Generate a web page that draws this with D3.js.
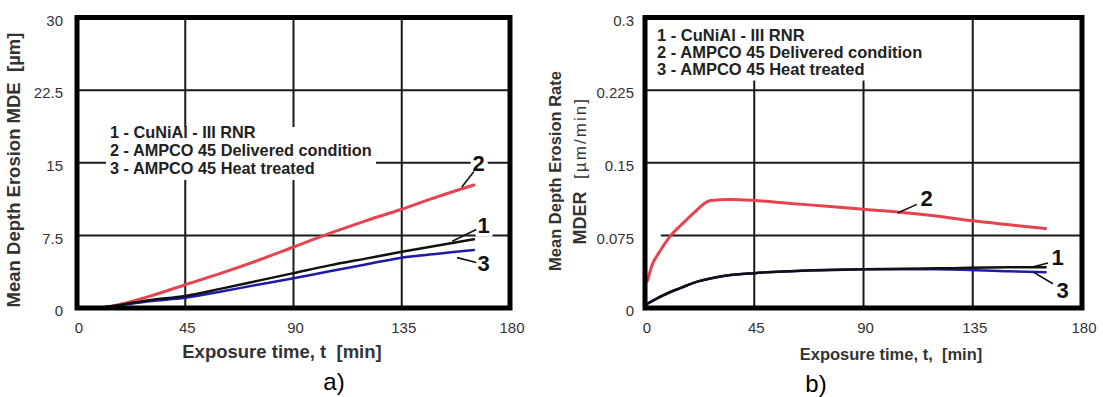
<!DOCTYPE html>
<html>
<head>
<meta charset="utf-8">
<script src="https://cdn.jsdelivr.net/npm/d3@7"></script>
<style>
  html, body { margin: 0; padding: 0; background: #fff; }
  svg { display: block; }
  text { font-family: "Liberation Sans", Arial, sans-serif; }
</style>
</head>
<body>
<svg id="chart" width="1103" height="397"></svg>
<script>
// ---------- DATA ----------
// a) Mean Depth Erosion MDE [µm]
const tA = [0, 10, 20, 30, 45, 60, 75, 90, 105, 120, 135, 150, 165];
const mdeCuNiAl   = [0, 0.05, 0.4, 0.8, 1.25, 2.0, 2.8, 3.6, 4.4, 5.1, 5.8, 6.45, 7.1];
const mdeDelivered = [0, 0.05, 0.5, 1.2, 2.4, 3.6, 4.9, 6.3, 7.7, 9.0, 10.2, 11.5, 12.7];
const mdeHeat     = [0, 0.05, 0.35, 0.7, 1.05, 1.7, 2.4, 3.07, 3.8, 4.5, 5.2, 5.6, 6.0];

// b) Mean Depth Erosion Rate MDER [µm/min]
const tB = [0, 5, 10, 15, 20, 30, 45, 60, 90, 120, 150, 165];
const mderCuNiAl = [0.003, 0.010, 0.016, 0.021, 0.026, 0.032, 0.036, 0.038, 0.040, 0.041, 0.042, 0.042];
const mderHeat   = [0.003, 0.010, 0.016, 0.021, 0.026, 0.032, 0.036, 0.038, 0.040, 0.040, 0.038, 0.037];
const tB2 = [1, 3, 6, 10, 15, 20, 27, 35, 45, 60, 75, 90, 105, 120, 135, 150, 165];
const mderDelivered = [0.028, 0.045, 0.058, 0.073, 0.086, 0.098, 0.111, 0.112, 0.111, 0.108, 0.105, 0.102, 0.099, 0.095, 0.090, 0.086, 0.082];

// axes / ticks
const xTicks = [0, 45, 90, 135, 180];
const yTicksA = [0, 7.5, 15, 22.5, 30];
const yTicksALabels = ["0", "7.5", "15", "22.5", "30"];
const yTicksB = [0, 0.075, 0.15, 0.225, 0.3];
const yTicksBLabels = ["0", "0.075", "0.15", "0.225", "0.3"];

const legendLines = ["1 - CuNiAl - III RNR", "2 - AMPCO 45 Delivered condition", "3 - AMPCO 45 Heat treated"];

// curve number labels: [label, labelT, labelV, leaderFromT, leaderFromV, leaderToT, leaderToV]
const labelsA = [
  ["2", 167, 15, 160, 12.5, 165, 14.1],
  ["1", 169, 8.6, 156, 6.9, 166, 8.1],
  ["3", 169, 4.6, 158, 5.2, 166, 4.7]
];
const labelsB = [
  ["2", 116, 0.113, 104, 0.098, 112, 0.107],
  ["1", 170, 0.053, 160, 0.0425, 166, 0.0465],
  ["3", 172, 0.019, 160, 0.037, 168, 0.025]
];

const colRed = "#e4434f", colBlack = "#111111", colBlue = "#1c1ca6";

// ---------- DRAW ----------
const svg = d3.select("#chart");

function panel(opts) {
  const { x, y, xTicks, yTicks, yLabels, series, labels, legend, gridH } = opts;
  const g = svg.append("g");
  const [x0, x1] = x.range();
  const [y0, y1] = y.range();

  // gridlines
  yTicks.slice(1, -1).forEach(v => {
    const start = gridH && gridH[v] !== undefined ? x(gridH[v]) : x0;
    g.append("line").attr("x1", start).attr("x2", x1).attr("y1", y(v)).attr("y2", y(v))
      .attr("stroke", "#1a1a1a").attr("stroke-width", 2);
  });
  xTicks.slice(1, -1).forEach(v => {
    g.append("line").attr("x1", x(v)).attr("x2", x(v)).attr("y1", y0).attr("y2", y1)
      .attr("stroke", "#1a1a1a").attr("stroke-width", 2);
  });

  // legend (white box masks grid)
  g.append("rect").attr("x", legend.box[0]).attr("y", legend.box[1])
    .attr("width", legend.box[2]).attr("height", legend.box[3]).attr("fill", "#fff");
  legendLines.forEach((s, i) => {
    g.append("text").attr("x", legend.x).attr("y", legend.y + i * legend.dy)
      .attr("font-size", legend.fs).attr("font-weight", "bold").attr("fill", "#222")
      .text(s);
  });

  // series
  series.forEach(s => {
    const line = d3.line().x(d => x(d[0])).y(d => y(d[1])).curve(d3.curveMonotoneX);
    g.append("path").datum(d3.zip(s.t, s.v)).attr("d", line)
      .attr("fill", "none").attr("stroke", s.color).attr("stroke-width", s.w)
      .attr("stroke-linecap", "round");
  });

  // curve labels
  labels.forEach(l => {
    const [txt, lt, lv, ft, fv, tt, tv] = l;
    g.append("rect").attr("x", x(lt) - 8).attr("y", y(lv) - 12).attr("width", 17).attr("height", 24).attr("fill", "#fff");
    g.append("line").attr("x1", x(ft)).attr("y1", y(fv)).attr("x2", x(tt)).attr("y2", y(tv))
      .attr("stroke", "#111").attr("stroke-width", 1.6);
    g.append("text").attr("x", x(lt)).attr("y", y(lv)).attr("dy", "0.36em")
      .attr("text-anchor", "middle").attr("font-size", 22).attr("font-weight", "bold")
      .attr("fill", "#111").text(txt);
  });

  // frame
  g.append("rect").attr("x", x0).attr("y", y1).attr("width", x1 - x0).attr("height", y0 - y1)
    .attr("fill", "none").attr("stroke", "#000").attr("stroke-width", 5);

  // tick labels
  xTicks.forEach(v => {
    g.append("text").attr("x", x(v) + 2).attr("y", 333).attr("text-anchor", "middle")
      .attr("font-size", 15).attr("fill", "#333").text(v);
  });
  yTicks.forEach((v, i) => {
    g.append("text").attr("x", opts.yLabelX).attr("y", y(v) + 3).attr("dy", "0.35em")
      .attr("text-anchor", "end").attr("font-size", 15).attr("fill", "#333").text(yLabels[i]);
  });
  return g;
}

// Panel a)
const xA = d3.scaleLinear().domain([0, 180]).range([77, 510]);
const yA = d3.scaleLinear().domain([0, 30]).range([308, 17.5]);
panel({
  x: xA, y: yA, xTicks, yTicks: yTicksA, yLabels: yTicksALabels, yLabelX: 63,
  series: [
    { t: tA, v: mdeDelivered, color: colRed, w: 3 },
    { t: tA, v: mdeHeat, color: colBlue, w: 2.5 },
    { t: tA, v: mdeCuNiAl, color: colBlack, w: 2.5 }
  ],
  labels: labelsA,
  legend: { box: [106, 127, 270, 53], x: 110, y: 138, dy: 18, fs: 16.3 }
});

// Panel b)
const xB = d3.scaleLinear().domain([0, 180]).range([645, 1082]);
const yB = d3.scaleLinear().domain([0, 0.3]).range([308, 17.5]);
panel({
  x: xB, y: yB, xTicks, yTicks: yTicksB, yLabels: yTicksBLabels, yLabelX: 634,
  gridH: { 0.075: 6.5 },
  series: [
    { t: tB2, v: mderDelivered, color: colRed, w: 3 },
    { t: tB, v: mderHeat, color: colBlue, w: 2.5 },
    { t: tB, v: mderCuNiAl, color: colBlack, w: 2.5 }
  ],
  labels: labelsB,
  legend: { box: [645, 17.5, 285, 63], x: 657, y: 41, dy: 17, fs: 16.5 }
});

// axis titles
svg.append("text").attr("x", 282).attr("y", 358).attr("text-anchor", "middle")
  .attr("font-size", 18.5).attr("font-weight", "bold").attr("fill", "#333")
  .attr("xml:space", "preserve").text("Exposure time, t  [min]");
svg.append("text").attr("x", 891).attr("y", 360).attr("text-anchor", "middle")
  .attr("font-size", 16.5).attr("font-weight", "bold").attr("fill", "#333")
  .attr("xml:space", "preserve").text("Exposure time, t,  [min]");

svg.append("text").attr("transform", "translate(20,170) rotate(-90)").attr("text-anchor", "middle")
  .attr("font-size", 18.5).attr("font-weight", "bold").attr("fill", "#333")
  .attr("xml:space", "preserve").text("Mean Depth Erosion MDE  [µm]");

svg.append("text").attr("transform", "translate(561,171) rotate(-90)").attr("text-anchor", "middle")
  .attr("font-size", 16.5).attr("font-weight", "bold").attr("fill", "#333")
  .text("Mean Depth Erosion Rate");
svg.append("text").attr("transform", "translate(586,218) rotate(-90)").attr("text-anchor", "middle")
  .attr("font-size", 18).attr("font-weight", "bold").attr("fill", "#333")
  .text("MDER");
svg.append("text").attr("transform", "translate(586,139) rotate(-90)").attr("text-anchor", "middle")
  .attr("font-size", 17).attr("fill", "#333")
  .attr("textLength", 80).attr("lengthAdjust", "spacing")
  .text("[µm/min]");

// panel letters
svg.append("text").attr("x", 334).attr("y", 390).attr("text-anchor", "middle")
  .attr("font-size", 24).attr("fill", "#000").text("a)");
svg.append("text").attr("x", 816).attr("y", 392).attr("text-anchor", "middle")
  .attr("font-size", 24).attr("fill", "#000").text("b)");
</script>
</body>
</html>
